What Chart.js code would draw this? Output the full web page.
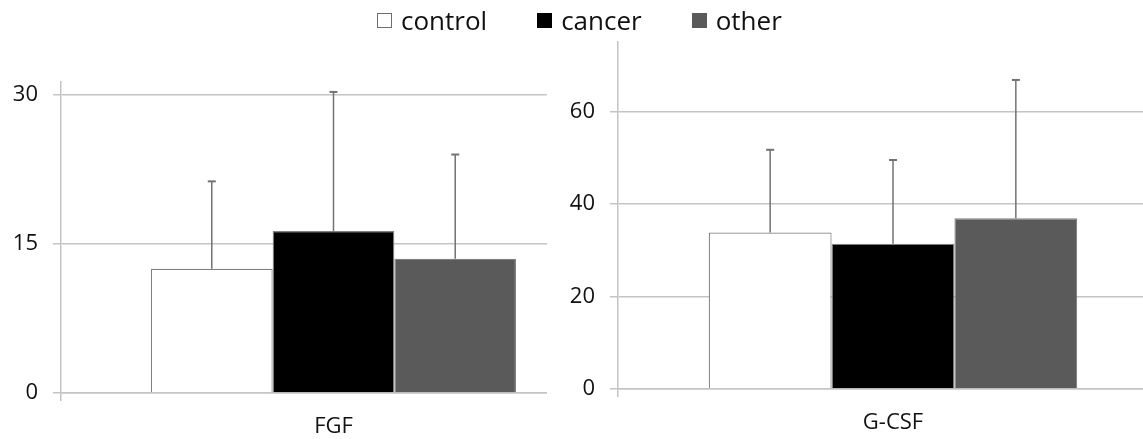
<!DOCTYPE html>
<html>
<head>
<meta charset="utf-8">
<script src="https://cdn.jsdelivr.net/npm/chart.js@4/dist/chart.umd.min.js"></script>
<style>
  html, body { margin: 0; padding: 0; background: #fff; overflow: hidden; }
  #wrap { position: relative; width: 1143px; height: 439px; overflow: hidden; }
  #fgf { position: absolute; left: 0; top: 0; }
  #gcsf { position: absolute; left: 547px; top: 0; background: #fff; }
  #legend { position: absolute; left: 377px; top: 5px; height: 30px; display: flex; align-items: center;
            font-family: "Open Sans", sans-serif; font-size: 26px; color: #111; z-index: 5; }
  .item { display: flex; align-items: center; margin-right: 50px; }
  .item:last-child { margin-right: 0; }
  .box { width: 15px; height: 15px; box-sizing: border-box; margin-right: 9px; border: 1.5px solid #6e6e6e; }
  .item span { line-height: 30px; }
</style>
</head>
<body>
<div id="wrap">
  <canvas id="fgf" width="606" height="439"></canvas>
  <canvas id="gcsf" width="621" height="439"></canvas>
  <div id="legend"></div>
</div>
<script>
// Groups and measured values (mean and upper standard deviation)
const series = ['control', 'cancer', 'other'];
const fgfLabel = ['FGF'];
const fgfMean = [12.5, 16.3, 13.5];
const fgfSD = [8.8, 14.0, 10.5];
const fgfTicks = [0, 15, 30];
const gcsfLabel = ['G-CSF'];
const gcsfMean = [33.8, 31.4, 36.9];
const gcsfSD = [17.9, 18.1, 29.9];
const gcsfTicks = [0, 20, 40, 60];

const fills = ['#ffffff', '#000000', '#5a5a5a'];
const gridColor = '#c4c4c4';
const tickFont = { family: '"Open Sans", sans-serif', size: 22 };

// Legend row shared by both panels
const legend = document.getElementById('legend');
series.forEach((name, i) => {
  const item = document.createElement('div');
  item.className = 'item';
  const box = document.createElement('div');
  box.className = 'box';
  box.style.background = fills[i];
  if (i > 0) box.style.borderColor = fills[i];
  const txt = document.createElement('span');
  txt.textContent = name;
  item.appendChild(box);
  item.appendChild(txt);
  legend.appendChild(item);
});

// Upward error whiskers with a short cap
const errorBars = {
  id: 'errorBars',
  afterDatasetsDraw(chart, args, opts) {
    const ctx = chart.ctx;
    const y = chart.scales.y;
    ctx.save();
    ctx.strokeStyle = '#727272';
    chart.data.datasets.forEach((ds, i) => {
      const bar = chart.getDatasetMeta(i).data[0];
      const top = y.getPixelForValue(ds.data[0] + opts.sd[i]);
      ctx.lineWidth = 1.5;
      ctx.beginPath();
      ctx.moveTo(bar.x, bar.y);
      ctx.lineTo(bar.x, top);
      ctx.stroke();
      ctx.lineWidth = 2;
      ctx.beginPath();
      ctx.moveTo(bar.x - 4, top);
      ctx.lineTo(bar.x + 4, top);
      ctx.stroke();
    });
    ctx.restore();
  }
};

function panel(id, label, means, sds, ticks, yMax, yWidth, padTop, xHeight) {
  return new Chart(document.getElementById(id), {
    type: 'bar',
    data: {
      labels: label,
      datasets: series.map((name, i) => ({
        label: name,
        data: [means[i]],
        backgroundColor: fills[i],
        borderColor: '#808080',
        borderWidth: 1.2
      }))
    },
    options: {
      responsive: false,
      animation: false,
      devicePixelRatio: 1,
      layout: { padding: { top: padTop, left: 0, right: 0, bottom: 0 } },
      categoryPercentage: 0.67,
      barPercentage: 1.0,
      plugins: {
        legend: { display: false },
        tooltip: { enabled: false },
        errorBars: { sd: sds }
      },
      scales: {
        x: {
          grid: { drawOnChartArea: false, drawTicks: true, tickLength: 8, color: gridColor, lineWidth: 1.5 },
          border: { display: true, color: gridColor, width: 1.5 },
          ticks: { font: tickFont, color: '#111', padding: 13 },
          afterFit(s) { s.height = xHeight; }
        },
        y: {
          min: 0,
          max: yMax,
          afterBuildTicks(s) { s.ticks = ticks.map(v => ({ value: v })); },
          grid: { color: gridColor, lineWidth: 1.5, tickLength: 8, drawTicks: true },
          border: { display: true, color: gridColor, width: 1.5 },
          ticks: { font: tickFont, color: '#111', padding: 15 },
          afterFit(s) { s.width = yWidth; }
        }
      }
    },
    plugins: [errorBars]
  });
}

panel('fgf', fgfLabel, fgfMean, fgfSD, fgfTicks, 31.3, 61, 82, 46);
panel('gcsf', gcsfLabel, gcsfMean, gcsfSD, gcsfTicks, 75, 71, 42, 50);
</script>
</body>
</html>
